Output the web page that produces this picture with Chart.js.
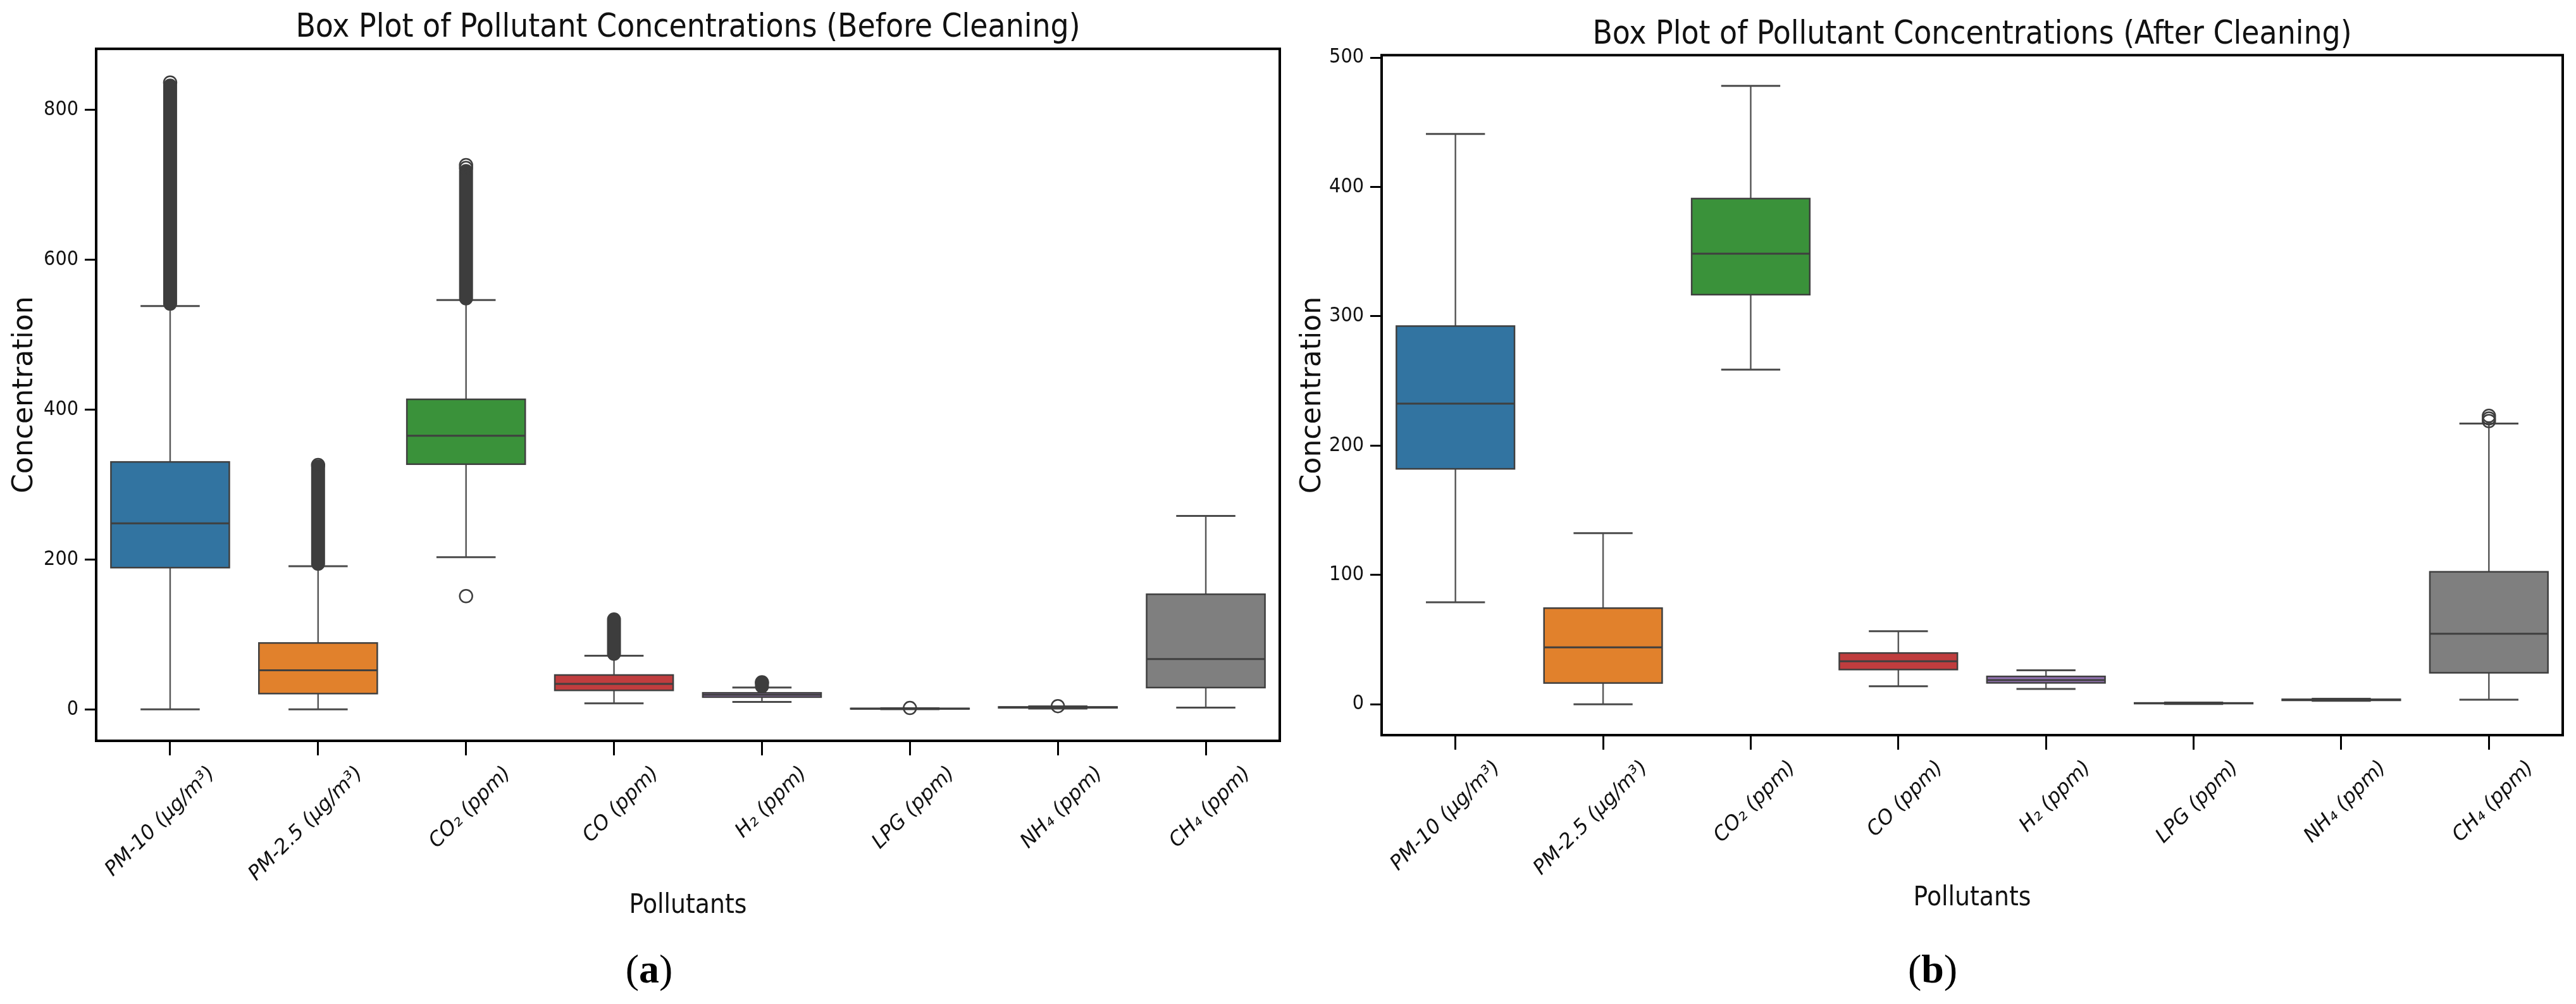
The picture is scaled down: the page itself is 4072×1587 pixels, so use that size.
<!DOCTYPE html>
<html>
<head>
<meta charset="utf-8">
<script src="https://cdn.jsdelivr.net/npm/chart.js@4.4.1/dist/chart.umd.min.js"></script>
<style>
  html, body { margin: 0; padding: 0; background: #fff; }
  body { width: 4072px; height: 1587px; position: relative; overflow: hidden; }
  .panel { position: absolute; top: 0; width: 2036px; height: 1480px; }
  .tag { position: absolute; font-family: 'Liberation Serif', serif; font-size: 64px; line-height: 1; transform: translate(-50%, -50%); color: #000; }
</style>
</head>
<body>
<div class="panel" style="left:0"><canvas id="before" width="2036" height="1480"></canvas></div>
<div class="panel" style="left:2036px"><canvas id="after" width="2036" height="1480"></canvas></div>
<div class="tag" style="left:1026px;top:1532px">(<b>a</b>)</div>
<div class="tag" style="left:3055px;top:1532px">(<b>b</b>)</div>
<script>
const pollutants = ["PM-10 (μg/m³)", "PM-2.5 (μg/m³)", "CO₂ (ppm)", "CO (ppm)", "H₂ (ppm)", "LPG (ppm)", "NH₄ (ppm)", "CH₄ (ppm)"];
const boxColors = ["#3274a1", "#e1812c", "#3a923a", "#c03d3e", "#9372b2", "#845b53", "#d684bd", "#7f7f7f"];

// before cleaning
const beforeLow = [0, 0, 203, 7.9, 9.8, 0.2, 1.0, 2.3];
const beforeQ1 = [189, 21, 327, 25.3, 16.3, 0.6, 2.0, 29];
const beforeMedian = [248, 52, 365, 34, 19.4, 0.9, 2.6, 67];
const beforeQ3 = [330, 88.5, 413.5, 45.8, 22, 1.2, 3.2, 153.5];
const beforeHigh = [538, 191, 546, 71.6, 29, 1.5, 3.9, 258];
// runs of outliers so dense they merge into a solid column
const beforeDenseLow = [541, 194, 548, 74, 30.5, null, null, null];
const beforeDenseHigh = [832, 324, 718, 120, 35, null, null, null];
const beforeOutliers = [[836], [326], [151, 722, 726], [], [36], [1.8], [4.3], []];
const beforeTicks = [0, 200, 400, 600, 800];

// after cleaning
const afterLow = [78.8, 0, 258.7, 13.9, 11.8, 0.2, 2.6, 3.5];
const afterQ1 = [182, 16.4, 316.7, 26.8, 16.5, 0.5, 3.0, 24.3];
const afterMedian = [232.4, 44, 348.4, 33.2, 18.6, 0.8, 3.4, 54.5];
const afterQ3 = [292.4, 74.3, 391, 39.6, 21.5, 1.0, 3.8, 102.4];
const afterHigh = [441, 132.3, 478.2, 56.5, 26.3, 1.3, 4.2, 217];
const afterDenseLow = [null, null, null, null, null, null, null, null];
const afterDenseHigh = [null, null, null, null, null, null, null, null];
const afterOutliers = [[], [], [], [], [], [], [], [219, 221, 223]];
const afterTicks = [0, 100, 200, 300, 400, 500];

const condensed = "'DejaVu Sans Condensed', 'DejaVu Sans', sans-serif";
const regular = "'DejaVu Sans', sans-serif";
const lineColor = "#3f3f3f";

const boxParts = {
  id: "boxParts",
  beforeDatasetsDraw(chart, args, o) {
    const ctx = chart.ctx, x = chart.scales.x, y = chart.scales.y;
    const cw = x.getPixelForValue(1) - x.getPixelForValue(0);
    ctx.save();
    o.low.forEach((lo, i) => {
      const px = x.getPixelForValue(i);
      ctx.strokeStyle = "#5a5a5a";
      ctx.lineWidth = 2.5;
      ctx.beginPath();
      ctx.moveTo(px, y.getPixelForValue(lo));
      ctx.lineTo(px, y.getPixelForValue(o.q1[i]));
      ctx.moveTo(px, y.getPixelForValue(o.q3[i]));
      ctx.lineTo(px, y.getPixelForValue(o.high[i]));
      ctx.stroke();
      ctx.strokeStyle = "#4a4a4a";
      ctx.lineWidth = 3;
      [lo, o.high[i]].forEach(v => {
        const py = y.getPixelForValue(v);
        ctx.beginPath();
        ctx.moveTo(px - cw * 0.2, py);
        ctx.lineTo(px + cw * 0.2, py);
        ctx.stroke();
      });
    });
    ctx.restore();
  },
  afterDatasetDraw(chart, args, o) {
    if (args.meta.type !== "bar") return;
    const ctx = chart.ctx, x = chart.scales.x, y = chart.scales.y;
    const cw = x.getPixelForValue(1) - x.getPixelForValue(0);
    ctx.save();
    o.q1.forEach((q1, i) => {
      const px = x.getPixelForValue(i);
      const top = y.getPixelForValue(o.q3[i]), bot = y.getPixelForValue(q1);
      ctx.strokeStyle = lineColor;
      ctx.lineWidth = 2.5;
      ctx.strokeRect(px - cw * 0.4, top, cw * 0.8, bot - top);
      ctx.lineWidth = 3;
      const pm = y.getPixelForValue(o.median[i]);
      ctx.beginPath();
      ctx.moveTo(px - cw * 0.4, pm);
      ctx.lineTo(px + cw * 0.4, pm);
      ctx.stroke();
      if (o.denseLow[i] != null) {
        ctx.lineCap = "round";
        ctx.lineWidth = 22;
        ctx.strokeStyle = "#3d3d3d";
        ctx.beginPath();
        ctx.moveTo(px, y.getPixelForValue(o.denseLow[i]));
        ctx.lineTo(px, y.getPixelForValue(o.denseHigh[i]));
        ctx.stroke();
        ctx.lineCap = "butt";
      }
    });
    ctx.restore();
  },
  afterDraw(chart) {
    const ctx = chart.ctx, a = chart.chartArea;
    ctx.save();
    ctx.strokeStyle = "#000";
    ctx.lineWidth = 4;
    ctx.strokeRect(a.left, a.top, a.right - a.left, a.bottom - a.top);
    ctx.restore();
  }
};

function makeChart(id, cfg) {
  const outlierPoints = [];
  cfg.outliers.forEach((list, i) => {
    list.forEach(v => outlierPoints.push({ x: pollutants[i], y: v }));
  });
  return new Chart(document.getElementById(id), {
    type: "bar",
    data: {
      labels: pollutants,
      datasets: [
        {
          type: "bar",
          data: cfg.q1.map((q, i) => [q, cfg.q3[i]]),
          backgroundColor: boxColors,
          borderWidth: 0,
          barPercentage: 0.8,
          categoryPercentage: 1.0,
          order: 2
        },
        {
          type: "scatter",
          data: outlierPoints,
          pointStyle: "circle",
          pointRadius: 10,
          borderWidth: 2.5,
          borderColor: "#3d3d3d",
          backgroundColor: "rgba(0,0,0,0)",
          order: 1
        }
      ]
    },
    options: {
      responsive: false,
      animation: false,
      devicePixelRatio: 1,
      layout: { padding: { right: cfg.padRight } },
      plugins: {
        legend: { display: false },
        tooltip: { enabled: false },
        title: {
          display: true,
          fullSize: false, // centre over the plot area, not the canvas
          text: cfg.title,
          color: "#111",
          font: { family: condensed, size: 51, weight: "normal" },
          padding: { top: cfg.titleTop, bottom: cfg.titleBottom }
        },
        boxParts: {
          low: cfg.low, q1: cfg.q1, median: cfg.median, q3: cfg.q3, high: cfg.high,
          denseLow: cfg.denseLow, denseHigh: cfg.denseHigh
        }
      },
      scales: {
        x: {
          type: "category",
          offset: true,
          border: { display: false },
          grid: { display: true, offset: false, drawOnChartArea: false, drawTicks: true, tickLength: 23, color: "#000", lineWidth: 3 },
          ticks: {
            color: "#111",
            font: { family: regular, size: 32, style: "italic" },
            minRotation: 45, maxRotation: 45,
            autoSkip: false,
            padding: 10,
            labelOffset: 66
          },
          title: {
            display: true,
            text: "Pollutants",
            color: "#111",
            font: { family: condensed, size: 42 },
            padding: { top: 0, bottom: cfg.xTitleBottom }
          },
          afterFit(scale) { scale.height = cfg.xHeight; }
        },
        y: {
          min: cfg.min,
          max: cfg.max,
          border: { display: false },
          grid: { display: true, drawOnChartArea: false, drawTicks: true, tickLength: 18, color: "#000", lineWidth: 3 },
          ticks: {
            color: "#111",
            font: { family: condensed, size: 32 },
            padding: 10
          },
          afterBuildTicks(scale) { scale.ticks = cfg.ticks.map(v => ({ value: v })); },
          title: {
            display: true,
            text: "Concentration",
            color: "#111",
            font: { family: regular, size: 44 },
            padding: { top: 13, bottom: 0 }
          },
          afterFit(scale) { scale.width = cfg.yWidth; }
        }
      }
    },
    plugins: [boxParts]
  });
}

makeChart("before", {
  title: "Box Plot of Pollutant Concentrations (Before Cleaning)",
  low: beforeLow, q1: beforeQ1, median: beforeMedian, q3: beforeQ3, high: beforeHigh,
  denseLow: beforeDenseLow, denseHigh: beforeDenseHigh, outliers: beforeOutliers,
  ticks: beforeTicks, min: -42, max: 881,
  yWidth: 152, xHeight: 309, padRight: 13, titleTop: 14, titleBottom: 2, xTitleBottom: 23
});

makeChart("after", {
  title: "Box Plot of Pollutant Concentrations (After Cleaning)",
  low: afterLow, q1: afterQ1, median: afterMedian, q3: afterQ3, high: afterHigh,
  denseLow: afterDenseLow, denseHigh: afterDenseHigh, outliers: afterOutliers,
  ticks: afterTicks, min: -23.9, max: 501.9,
  yWidth: 148, xHeight: 318, padRight: 21, titleTop: 25, titleBottom: 1, xTitleBottom: 35
});
</script>
</body>
</html>
